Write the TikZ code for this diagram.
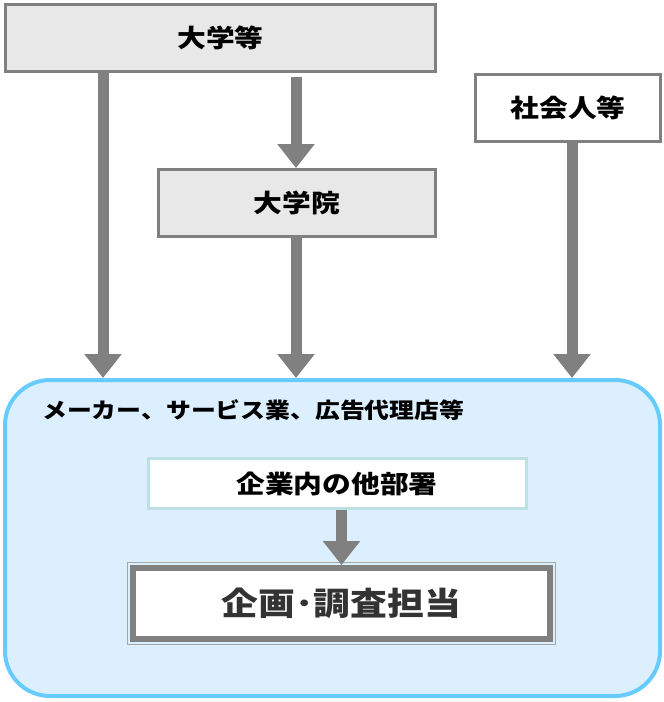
\documentclass[tikz,border=0pt]{standalone}
\usepackage{fontspec}
\usepackage{xcolor}
\usetikzlibrary{positioning,arrows.meta}
\newfontfamily\jp{Noto Sans CJK JP}[FakeStretch=1.15]
\definecolor{boxgray}{HTML}{808080}
\definecolor{boxfill}{HTML}{E8E8E8}
\definecolor{compline}{HTML}{66CCFF}
\definecolor{compfill}{HTML}{DCEFFF}
\definecolor{deptline}{HTML}{BDE0E4}
\definecolor{textdark}{HTML}{333333}

\begin{document}
\begin{tikzpicture}[
    x=1pt,y=1pt,
    every node/.style={font=\jp\bfseries\fontsize{25}{28}\selectfont},
    box/.style={rectangle,draw=boxgray,line width=3pt,minimum height=67pt,align=center},
    school/.style={box,fill=boxfill},
    person/.style={box,fill=white},
    company/.style={rectangle,draw=compline,fill=compfill,line width=4pt,rounded corners=45pt},
    dept/.style={rectangle,draw=deptline,fill=white,line width=3pt,minimum width=378pt,minimum height=50pt},
    target/.style={rectangle,draw=boxgray,fill=white,line width=6pt,minimum width=417pt,minimum height=71pt,
        text=textdark,font=\jp\bfseries\fontsize{32}{36}\selectfont},
    flow/.style={draw=boxgray,line width=11pt,-{Triangle[width=36pt,length=24pt]}}
]
\useasboundingbox (0,0) rectangle (664,-702);

% Company frame (drawn first, sits behind)
\node[company,minimum width=655pt,minimum height=316pt] (comp) at (332.5,-538) {};
\node[anchor=west,inner sep=0pt,font=\jp\bfseries\fontsize{21.6}{26}\selectfont] (comptitle) at (42,-410) {メーカー、サービス業、広告代理店等};

% Node grid (absolute positions)
\node[school,minimum width=430pt] (daigaku)   at (220.5,-38)  {大学等};
\node[person,minimum width=185pt] (shakai)    at (568,-107.5) {社会人等};
\node[school,minimum width=277pt] (daigakuin) at (297,-203)   {大学院};
\node[dept]   (busho)  at (337,-483.5) {企業内の他部署};
\node[target] (kikaku) at (341.5,-603.5) {企画･調査担当};
\draw[boxgray!70,line width=1pt] ([shift={(-2.5,2.5)}]kikaku.north west) rectangle ([shift={(2.5,-2.5)}]kikaku.south east);

% Arrow end points on the frame
\coordinate (inleft)  at (103,-378);
\coordinate (inmid)   at (296,-378);
\coordinate (inright) at (572,-378);

% Flows
\draw[flow] (daigaku.south -| inleft) -- (inleft);
\draw[flow,shorten <=4pt] (daigaku.south -| inmid) -- (daigakuin.north -| inmid);
\draw[flow] (daigakuin.south -| inmid) -- (inmid);
\draw[flow] (shakai.south -| inright) -- (inright);
\draw[flow] (busho.south -| kikaku.north) -- (kikaku.north);

\end{tikzpicture}
\end{document}
